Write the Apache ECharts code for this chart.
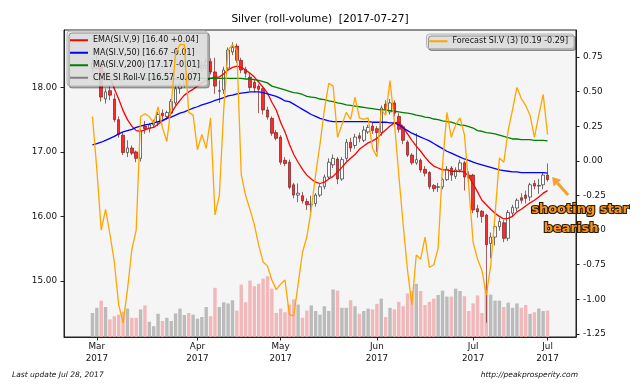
<!DOCTYPE html>
<html><head><meta charset="utf-8">
<script src="https://cdn.jsdelivr.net/npm/echarts@6/dist/echarts.min.js"></script>
<style>html,body{margin:0;padding:0;background:#fff}#c{width:640px;height:384px}</style>
</head><body><div id="c"></div>
<script>
// ---------- data ----------
const dates = [
'2017-02-28',
'2017-03-01','2017-03-02','2017-03-03','2017-03-06','2017-03-07','2017-03-08','2017-03-09','2017-03-10','2017-03-13','2017-03-14',
'2017-03-15','2017-03-16','2017-03-17','2017-03-20','2017-03-21','2017-03-22','2017-03-23','2017-03-24','2017-03-27','2017-03-28',
'2017-03-29','2017-03-30','2017-03-31',
'2017-04-03','2017-04-04','2017-04-05','2017-04-06','2017-04-07','2017-04-10','2017-04-11','2017-04-12','2017-04-13','2017-04-17',
'2017-04-18','2017-04-19','2017-04-20','2017-04-21','2017-04-24','2017-04-25','2017-04-26','2017-04-27','2017-04-28',
'2017-05-01','2017-05-02','2017-05-03','2017-05-04','2017-05-05','2017-05-08','2017-05-09','2017-05-10','2017-05-11','2017-05-12',
'2017-05-15','2017-05-16','2017-05-17','2017-05-18','2017-05-19','2017-05-22','2017-05-23','2017-05-24','2017-05-25','2017-05-26',
'2017-05-30','2017-05-31',
'2017-06-01','2017-06-02','2017-06-05','2017-06-06','2017-06-07','2017-06-08','2017-06-09','2017-06-12','2017-06-13','2017-06-14',
'2017-06-15','2017-06-16','2017-06-19','2017-06-20','2017-06-21','2017-06-22','2017-06-23','2017-06-26','2017-06-27','2017-06-28',
'2017-06-29','2017-06-30',
'2017-07-03','2017-07-05','2017-07-06','2017-07-07','2017-07-10','2017-07-11','2017-07-12','2017-07-13','2017-07-14','2017-07-17',
'2017-07-18','2017-07-19','2017-07-20','2017-07-21','2017-07-24','2017-07-25','2017-07-26','2017-07-27'
];
const opens = [
18.30,18.38,18.35,17.82,17.95,17.82,17.50,17.26,16.99,17.06,
17.00,16.90,17.40,17.36,17.42,17.45,17.60,17.55,17.60,17.76,
17.98,18.04,18.18,18.10,18.25,18.30,18.34,18.40,18.24,17.94,
17.96,18.30,18.55,18.64,18.42,18.28,18.16,18.08,18.02,17.98,
17.65,17.52,17.30,17.23,16.87,16.84,16.49,16.33,16.32,16.23,
16.18,16.20,16.33,16.46,16.61,16.80,16.89,16.58,16.90,17.15,
17.10,17.25,17.18,17.31,17.40,17.36,17.30,17.74,17.62,17.76,
17.55,17.39,17.15,16.95,16.83,16.87,16.73,16.68,16.48,16.45,
16.46,16.57,16.75,16.62,16.72,16.83,16.64,16.64,16.12,16.08,
16.02,15.58,15.68,15.84,15.90,15.66,16.05,16.13,16.29,16.33,
16.30,16.51,16.47,16.49,16.64
];
const highs = [
18.45,18.52,18.40,17.98,18.02,17.90,17.55,17.30,17.18,17.10,
17.02,17.36,17.48,17.45,17.50,17.62,17.66,17.64,17.82,18.05,
18.08,18.20,18.22,18.30,18.38,18.40,18.45,18.45,18.46,18.11,
18.32,18.62,18.70,18.68,18.46,18.32,18.22,18.12,18.05,18.00,
17.70,17.55,17.34,17.26,16.92,16.88,16.52,16.51,16.38,16.28,
16.32,16.36,16.50,16.65,16.90,16.96,16.92,16.92,17.20,17.22,
17.28,17.30,17.40,17.42,17.45,17.40,17.72,17.80,17.82,17.80,
17.60,17.42,17.18,16.98,17.29,16.90,16.78,16.70,16.50,16.52,
16.60,16.78,16.78,16.76,16.88,16.86,16.70,16.66,16.18,16.10,
16.04,15.75,15.88,15.98,15.94,16.10,16.18,16.28,16.36,16.40,
16.52,16.56,16.58,16.68,16.82
];
const lows = [
18.22,18.30,17.78,17.75,17.80,17.46,17.22,16.95,16.92,16.95,
16.84,16.85,17.28,17.30,17.38,17.40,17.50,17.50,17.55,17.72,
17.90,18.00,18.05,18.08,18.20,18.24,18.28,18.20,17.90,17.76,
17.90,18.26,18.50,18.38,18.22,18.15,17.95,17.92,17.60,17.58,
17.50,17.25,17.18,16.80,16.78,16.42,16.28,16.22,16.20,16.10,
16.06,16.15,16.30,16.42,16.58,16.75,16.50,16.55,16.86,17.00,
17.05,17.15,17.15,17.28,17.28,17.00,17.25,17.60,17.58,17.55,
17.30,17.12,16.92,16.80,16.80,16.68,16.62,16.42,16.38,16.38,
16.42,16.55,16.55,16.58,16.68,16.40,16.55,16.05,15.98,15.90,
14.35,15.35,15.55,15.78,15.60,15.62,16.00,16.08,16.20,16.20,
16.24,16.42,16.35,16.42,16.54
];
const closes = [
18.38,18.40,17.85,17.93,17.88,17.50,17.27,16.99,17.06,16.98,
16.90,17.32,17.36,17.42,17.45,17.58,17.56,17.61,17.78,17.98,
18.04,18.15,18.10,18.25,18.33,18.34,18.40,18.24,18.02,17.95,
18.27,18.58,18.62,18.42,18.27,18.22,18.00,17.99,17.97,17.65,
17.54,17.29,17.21,16.84,16.82,16.45,16.33,16.36,16.24,16.18,
16.19,16.33,16.46,16.61,16.84,16.90,16.58,16.88,17.15,17.06,
17.23,17.21,17.34,17.38,17.33,17.30,17.68,17.66,17.76,17.60,
17.35,17.18,16.95,16.83,16.88,16.72,16.67,16.46,16.43,16.46,
16.57,16.73,16.64,16.72,16.83,16.61,16.60,16.10,16.07,16.00,
15.56,15.68,15.84,15.92,15.66,16.06,16.14,16.25,16.25,16.28,
16.49,16.47,16.48,16.64,16.57
];
const volumes = [
60,73,91,75,44,52,56,63,71,48,
48,69,79,38,27,58,40,48,40,59,
71,55,60,56,46,50,75,52,123,75,
87,84,92,66,131,87,141,127,133,146,
152,121,60,71,62,81,94,81,48,66,
79,65,56,77,65,119,116,73,73,92,
77,58,65,71,69,83,96,50,73,69,
88,77,109,115,133,115,80,88,96,105,
116,101,101,121,115,102,65,84,104,60,
127,106,91,91,75,86,73,84,73,80,
58,62,71,65,66
];
const ema9 = [
18.30,18.30,18.27,18.22,18.16,17.98,17.82,17.64,17.50,17.40,
17.33,17.32,17.34,17.37,17.38,17.43,17.48,17.52,17.60,17.71,
17.80,17.88,17.93,17.97,18.02,18.07,18.11,18.14,18.16,18.16,
18.21,18.27,18.31,18.33,18.31,18.27,18.22,18.16,18.08,18.00,
17.91,17.77,17.65,17.46,17.31,17.12,16.96,16.84,16.73,16.64,
16.58,16.53,16.51,16.53,16.58,16.62,16.69,16.76,16.84,16.90,
16.96,17.04,17.09,17.14,17.17,17.21,17.28,17.34,17.40,17.45,
17.46,17.38,17.28,17.18,17.09,17.01,16.92,16.84,16.78,16.75,
16.72,16.72,16.70,16.70,16.70,16.69,16.62,16.50,16.38,16.25,
16.18,16.11,16.05,16.00,15.96,15.97,16.00,16.07,16.11,16.16,
16.21,16.25,16.30,16.36,16.40
];
const ma50 = [
17.11,17.13,17.15,17.18,17.21,17.24,17.28,17.31,17.33,17.35,
17.38,17.40,17.42,17.43,17.45,17.47,17.49,17.52,17.54,17.57,
17.60,17.62,17.65,17.68,17.70,17.73,17.75,17.77,17.80,17.82,
17.84,17.87,17.88,17.90,17.91,17.92,17.93,17.93,17.93,17.92,
17.90,17.88,17.86,17.83,17.79,17.78,17.74,17.70,17.66,17.62,
17.58,17.55,17.52,17.50,17.48,17.47,17.47,17.47,17.47,17.47,
17.47,17.47,17.47,17.47,17.46,17.46,17.46,17.46,17.45,17.45,
17.42,17.37,17.33,17.29,17.26,17.23,17.20,17.17,17.13,17.09,
17.05,17.01,16.98,16.95,16.92,16.89,16.87,16.84,16.82,16.80,
16.78,16.76,16.74,16.72,16.71,16.70,16.69,16.69,16.68,16.68,
16.68,16.68,16.68,16.68,16.67
];
const ma200 = [
18.12,18.12,18.12,18.12,18.12,18.12,18.12,18.12,18.13,18.13,
18.13,18.13,18.13,18.13,18.13,18.13,18.13,18.13,18.13,18.13,
18.13,18.13,18.14,18.14,18.14,18.14,18.14,18.14,18.14,18.14,
18.14,18.14,18.14,18.14,18.14,18.13,18.13,18.12,18.11,18.09,
18.07,18.02,18.00,17.98,17.96,17.94,17.92,17.91,17.89,17.86,
17.85,17.84,17.82,17.81,17.79,17.78,17.76,17.75,17.73,17.72,
17.71,17.70,17.69,17.68,17.67,17.66,17.65,17.65,17.64,17.63,
17.62,17.61,17.60,17.59,17.57,17.56,17.54,17.53,17.51,17.50,
17.48,17.47,17.46,17.44,17.42,17.41,17.39,17.37,17.33,17.32,
17.30,17.29,17.28,17.26,17.24,17.22,17.20,17.20,17.19,17.19,
17.19,17.18,17.18,17.18,17.17
];
const forecast = [
0.32,-0.06,-0.50,-0.35,-0.53,-0.73,-1.04,-1.17,-0.93,-0.64,
-0.50,0.32,0.34,0.32,0.27,0.39,0.24,0.14,0.40,0.78,
0.84,0.84,0.35,0.33,0.08,0.19,0.09,0.31,-0.39,-0.25,
0.37,0.80,0.84,0.80,-0.10,-0.25,-0.35,-0.46,-0.61,-0.73,
-0.76,-0.86,-0.93,-0.89,-0.86,-1.11,-1.12,-0.89,-0.66,-0.55,
-0.35,-0.10,0.12,0.37,0.56,0.54,0.17,0.26,0.35,0.30,
0.46,0.31,0.30,0.31,0.09,0.03,0.37,0.33,0.58,0.28,
-0.10,-0.46,-0.79,-1.04,-0.68,-0.71,-0.55,-0.77,-0.75,-0.63,
-0.03,0.35,0.17,0.26,0.31,0.19,-0.19,-0.59,-0.71,-0.79,
-0.97,-0.76,-0.39,0.02,-0.01,0.22,0.37,0.53,0.45,0.40,
0.33,0.17,0.33,0.48,0.19
];
const tickDates  = ['2017-03-01','2017-04-03','2017-05-01','2017-06-01','2017-07-03','2017-07-27'];
const tickLabels = ['Mar\n2017','Apr\n2017','May\n2017','Jun\n2017','Jul\n2017','Jul\n2017'];
const priceTicks = [15, 16, 17, 18];
const fcTicks = [-1.25,-1.00,-0.75,-0.50,-0.25,0.00,0.25,0.50,0.75];
const names = {
  ema: 'EMA(SI.V,9) [16.40 +0.04]',
  ma50: 'MA(SI.V,50) [16.67 -0.01]',
  ma200: 'MA(SI.V,200) [17.17 -0.01]',
  px: 'CME SI Roll-V [16.57 -0.07]',
  fc: 'Forecast SI.V (3) [0.19 -0.29]'
};

// ---------- build ----------
const PADL = 6, PADR = 6;
const cats = [];
for (let k = 0; k < PADL; k++) cats.push('pre' + k);
dates.forEach(d => cats.push(d));
for (let k = 0; k < PADR; k++) cats.push('post' + k);
const pad = (arr, f) => [...Array(PADL).fill(f), ...arr, ...Array(PADR).fill(f)];
const labelMap = {};
tickDates.forEach((d, i) => labelMap[d] = tickLabels[i]);
const showTick = (idx, val) => labelMap[val] !== undefined;

const candleData = pad(dates.map((d, i) => [opens[i], closes[i], lows[i], highs[i]]), '-');
const volData = pad(volumes.map((v, i) => ({
  value: v,
  itemStyle: { color: closes[i] < opens[i] ? 'rgba(240,172,174,0.85)' : 'rgba(172,172,172,0.8)' }
})), null);

const FONT = 'DejaVu Sans';
const axisCol = '#222';
const chart = echarts.init(document.getElementById('c'));
const option = {
  backgroundColor: '#ffffff',
  animation: false,
  textStyle: { fontFamily: FONT },
  title: {
    text: 'Silver (roll-volume)  [2017-07-27]', left: 'center', top: 14, padding: 0,
    textStyle: { fontFamily: FONT, fontSize: 10.6, fontWeight: 'normal', color: '#000' }
  },
  grid: { left: 64, top: 30, width: 512, height: 307, show: true, backgroundColor: '#f5f5f5', borderColor: axisCol, borderWidth: 1 },
  legend: [
    {
      data: [
        { name: names.ema }, { name: names.ma50 }, { name: names.ma200 },
        { name: names.px, itemStyle: { color: '#808080', borderWidth: 0 } }
      ],
      orient: 'vertical', left: 67, top: 31, icon: 'rect', itemWidth: 18, itemHeight: 2, itemGap: 2,
      selectedMode: false, padding: [4, 7, 3, 3],
      backgroundColor: 'rgba(230,230,230,0.85)', borderColor: '#b4b4b4', borderWidth: 1, borderRadius: 3,
      shadowColor: 'rgba(0,0,0,0.35)', shadowOffsetX: 2, shadowOffsetY: 2, shadowBlur: 0,
      textStyle: { fontFamily: FONT, fontSize: 8, color: '#111', lineHeight: 10.5 }, z: 4
    },
    {
      data: [{ name: names.fc }],
      orient: 'vertical', right: 66, top: 34, icon: 'rect', itemWidth: 18, itemHeight: 2,
      selectedMode: false, padding: [2, 6, 2, 3],
      backgroundColor: 'rgba(230,230,230,0.85)', borderColor: '#b4b4b4', borderWidth: 1, borderRadius: 3,
      shadowColor: 'rgba(0,0,0,0.35)', shadowOffsetX: 2, shadowOffsetY: 2, shadowBlur: 0,
      textStyle: { fontFamily: FONT, fontSize: 8, color: '#111', lineHeight: 10.5 }, z: 8
    }
  ],
  xAxis: {
    type: 'category', data: cats, boundaryGap: true,
    axisLine: { show: true, onZero: false, lineStyle: { color: axisCol } },
    axisTick: { show: true, interval: showTick, alignWithLabel: true, length: 3.5, lineStyle: { color: axisCol } },
    axisLabel: { interval: showTick, formatter: v => labelMap[v] || '', fontFamily: FONT, fontSize: 8.8, color: '#111', lineHeight: 12, margin: 4 },
    splitLine: { show: false }
  },
  yAxis: [
    {
      type: 'value', position: 'left', min: 14.13, max: 18.89,
      axisLine: { show: true, onZero: false, lineStyle: { color: axisCol } },
      axisTick: { show: true, length: 3.5, customValues: priceTicks, lineStyle: { color: axisCol } },
      axisLabel: { customValues: priceTicks, formatter: v => v.toFixed(2), fontFamily: FONT, fontSize: 8.8, color: '#111', margin: 7 },
      splitLine: { show: false }
    },
    {
      type: 'value', position: 'right', min: -1.272, max: 0.945,
      axisLine: { show: true, onZero: false, lineStyle: { color: axisCol } },
      axisTick: { show: true, length: 3.5, customValues: fcTicks, lineStyle: { color: axisCol } },
      axisLabel: { customValues: fcTicks, formatter: v => v.toFixed(2), fontFamily: FONT, fontSize: 8.8, color: '#111', margin: 7 },
      splitLine: { show: false }
    },
    { type: 'value', min: 0, max: 768, show: false, splitLine: { show: false } }
  ],
  series: [
    { name: 'volume', type: 'bar', yAxisIndex: 2, data: volData, barWidth: 3.4, z: 1, silent: true },
    {
      name: names.px, type: 'candlestick', yAxisIndex: 0, data: candleData, barWidth: 3, z: 2,
      itemStyle: { color: '#ffffff', color0: '#ff2a2a', borderColor: '#333333', borderColor0: '#7a2020', borderWidth: 0.7 }
    },
    { name: names.ema, type: 'line', yAxisIndex: 0, data: pad(ema9, null), color: '#ff0000', showSymbol: false, symbol: 'none', lineStyle: { width: 1.3 }, z: 3 },
    { name: names.ma50, type: 'line', yAxisIndex: 0, data: pad(ma50, null), color: '#0000ff', showSymbol: false, symbol: 'none', lineStyle: { width: 1.3 }, z: 3 },
    { name: names.ma200, type: 'line', yAxisIndex: 0, data: pad(ma200, null), color: '#008000', showSymbol: false, symbol: 'none', lineStyle: { width: 1.3 }, z: 3 },
    { name: names.fc, type: 'line', yAxisIndex: 1, data: pad(forecast, null), color: '#ffa500', showSymbol: false, symbol: 'none', lineStyle: { width: 1.3 }, z: 6 }
  ]
};
chart.setOption(option);

// ---------- annotation anchored to last candle ----------
const last = dates.length - 1;
const p = chart.convertToPixel({ xAxisIndex: 0, yAxisIndex: 0 }, [dates[last], opens[last]]);
const tip = [p[0] + 4.5, p[1] + 2];
const tail = [tip[0] + 16, tip[1] + 18];
const dx = tip[0] - tail[0], dy = tip[1] - tail[1];
const L = Math.hypot(dx, dy), ux = dx / L, uy = dy / L;
const hl = 8, hw = 5;
const base = [tip[0] - ux * hl, tip[1] - uy * hl];
const arrowCol = '#f5a030';
chart.setOption({
  graphic: [
    { type: 'line', z: 50, shape: { x1: tail[0], y1: tail[1], x2: base[0], y2: base[1] }, style: { stroke: arrowCol, lineWidth: 3 } },
    { type: 'polygon', z: 50, shape: { points: [tip, [base[0] - uy * hw, base[1] + ux * hw], [base[0] + uy * hw, base[1] - ux * hw]] }, style: { fill: arrowCol } },
    { type: 'text', z: 51, x: tip[0] + 28, y: tip[1] + 33, style: { text: 'shooting star', fill: '#f7931e', stroke: '#2a1a05', lineWidth: 2.2, font: 'bold 13px "DejaVu Sans"', align: 'center', verticalAlign: 'middle' } },
    { type: 'text', z: 51, x: tip[0] + 19, y: tip[1] + 52, style: { text: 'bearish', fill: '#f7931e', stroke: '#2a1a05', lineWidth: 2.2, font: 'bold 13px "DejaVu Sans"', align: 'center', verticalAlign: 'middle' } },
    { type: 'text', z: 51, left: 12, top: 371, style: { text: 'Last update Jul 28, 2017', fill: '#111', font: 'italic 7.5px "DejaVu Sans"' } },
    { type: 'text', z: 51, right: 62, top: 371, style: { text: 'http://peakprosperity.com', fill: '#111', font: 'italic 7.5px "DejaVu Sans"' } }
  ]
});
</script></body></html>
